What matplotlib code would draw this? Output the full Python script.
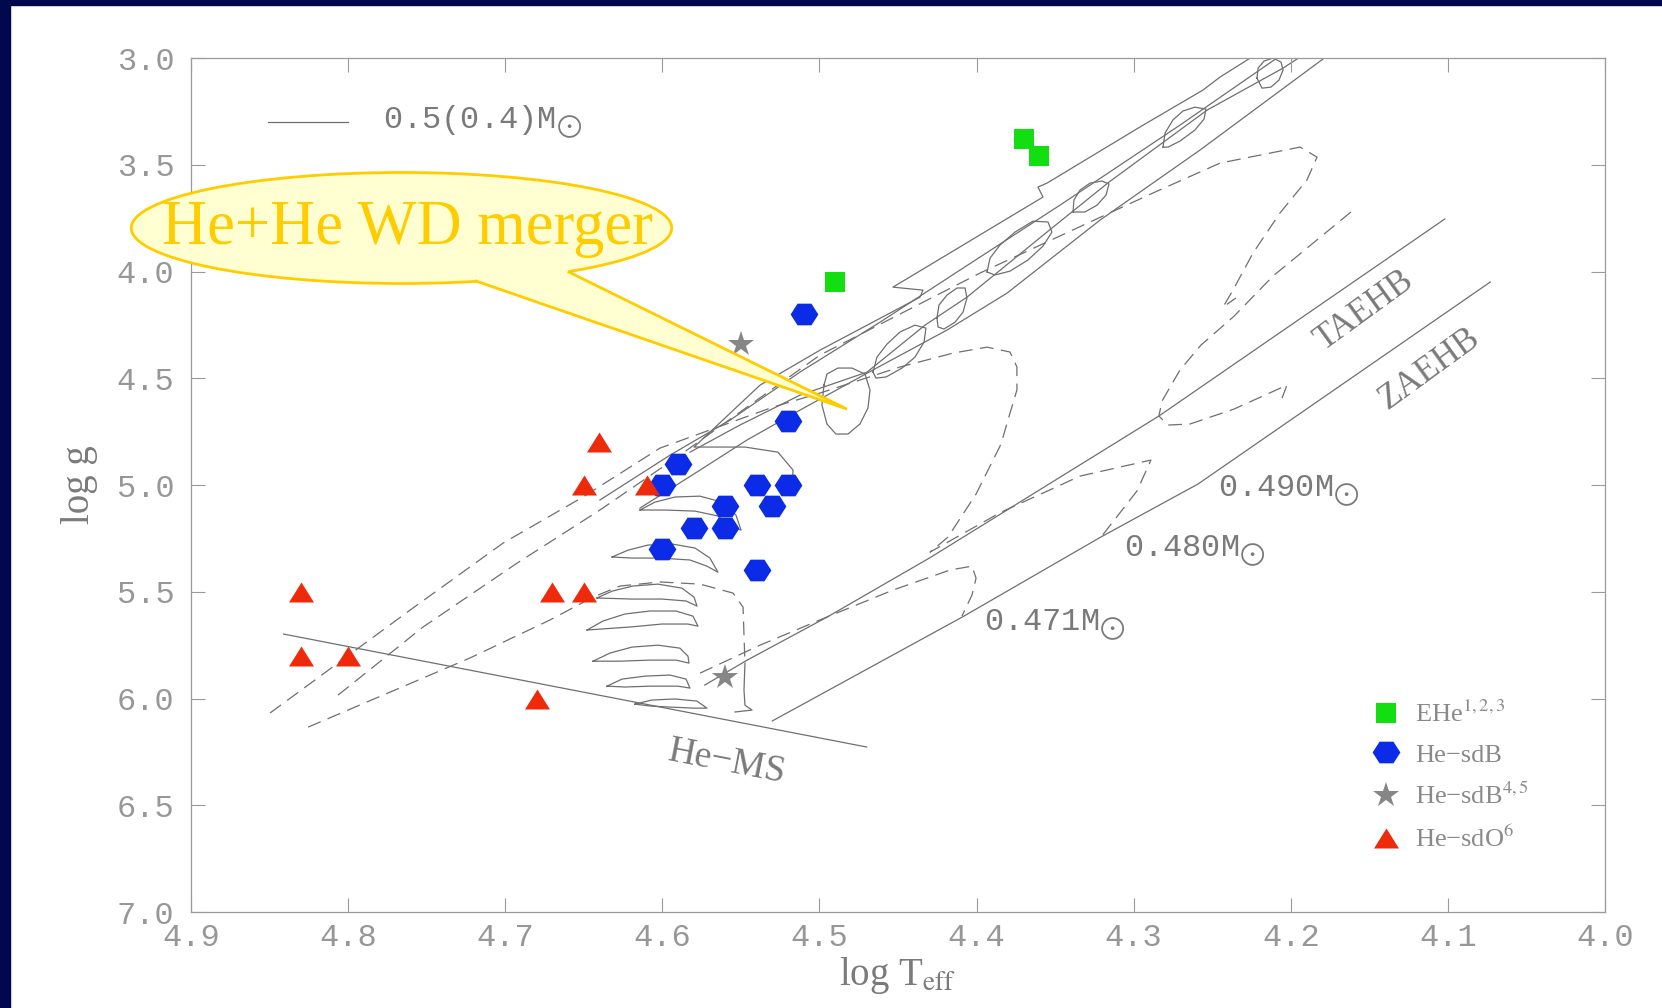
import matplotlib
matplotlib.use('Agg')
import matplotlib.pyplot as plt
from matplotlib.patches import Ellipse, Polygon, Rectangle

plt.rcParams['mathtext.fontset'] = 'stix'
plt.rcParams['font.family'] = ['Liberation Mono', 'DejaVu Sans']

## observed stars (log Teff, log g)
ehe_t = [4.37, 4.36, 4.49]
ehe_g = [3.38, 3.46, 4.05]
sdb_t = [4.51, 4.52, 4.59, 4.60, 4.54, 4.52, 4.56, 4.53, 4.58, 4.56, 4.60, 4.54]
sdb_g = [4.20, 4.70, 4.90, 5.00, 5.00, 5.00, 5.10, 5.10, 5.20, 5.20, 5.30, 5.40]
sdb45_t = [4.55, 4.56]
sdb45_g = [4.34, 5.90]
sdo_t = [4.64, 4.65, 4.61, 4.83, 4.67, 4.65, 4.83, 4.80, 4.68]
sdo_g = [4.80, 5.00, 5.00, 5.50, 5.50, 5.50, 5.80, 5.80, 6.00]

## reference lines
hems_t = [4.841, 4.470]
hems_g = [5.698, 6.227]
taehb_t = [4.573, 4.546, 4.495, 4.430, 4.284, 4.102]
taehb_g = [5.937, 5.820, 5.618, 5.342, 4.677, 3.754]
zaehb_t = [4.530, 4.409, 4.321, 4.259, 4.073]
zaehb_g = [6.105, 5.618, 5.244, 4.995, 4.049]

## solid tracks 0.5 Msun
trk1_t = [4.2215, 4.2450, 4.2559, 4.2960, 4.3552, 4.3609, 4.3577, 4.4532, 4.4341, 4.4360,
          4.4996, 4.5378, 4.5798, 4.5474, 4.5264, 4.5168, 4.5175]
trk1_g = [2.98, 3.089, 3.150, 3.323, 3.586, 3.604, 3.651, 4.073, 4.087, 4.120,
          4.368, 4.532, 4.822, 4.822, 4.846, 4.930, 5.024]
trk2_t = [4.1750, 4.2578, 4.3214, 4.3806, 4.4188, 4.4659, 4.5124, 4.5461, 4.5760, 4.6142]
trk2_g = [2.98, 3.431, 3.759, 4.101, 4.274, 4.461, 4.649, 4.789, 4.930, 5.108]
trk3_t = [4.2049, 4.2705, 4.3469, 4.4105, 4.4614, 4.5124, 4.5569, 4.5951, 4.6397]
trk3_g = [2.98, 3.314, 3.689, 3.993, 4.237, 4.471, 4.696, 4.860, 5.070]
trk4_t = [4.1909, 4.2049, 4.2533, 4.3157, 4.3513, 4.4061, 4.4328, 4.4697, 4.5124, 4.5506, 4.5824]
trk4_g = [2.98, 3.047, 3.244, 3.581, 3.792, 4.120, 4.251, 4.471, 4.579, 4.719, 4.846]

## flash loops
loop1_t = [4.2215, 4.2208, 4.2170, 4.2113, 4.2062, 4.2049, 4.2075, 4.2126, 4.2183, 4.2215]
loop1_g = [3.094, 3.047, 3.014, 3.000, 3.019, 3.056, 3.103, 3.136, 3.141, 3.094]
loop2_t = [4.2813, 4.2800, 4.2750, 4.2686, 4.2610, 4.2540, 4.2552, 4.2610, 4.2705, 4.2781, 4.2813]
loop2_g = [3.417, 3.351, 3.290, 3.248, 3.230, 3.239, 3.286, 3.337, 3.389, 3.417, 3.417]
loop3_t = [4.3386, 4.3380, 4.3341, 4.3278, 4.3202, 4.3157, 4.3176, 4.3233, 4.3310, 4.3386]
loop3_g = [3.721, 3.665, 3.618, 3.586, 3.576, 3.590, 3.642, 3.689, 3.721, 3.721]
loop4_t = [4.3933, 4.3914, 4.3851, 4.3755, 4.3641, 4.3545, 4.3520, 4.3577, 4.3673, 4.3787, 4.3883, 4.3933]
loop4_g = [4.002, 3.937, 3.876, 3.815, 3.764, 3.768, 3.815, 3.881, 3.946, 3.998, 4.016, 4.002]
loop5_t = [4.4252, 4.4239, 4.4188, 4.4124, 4.4073, 4.4061, 4.4086, 4.4137, 4.4207, 4.4245, 4.4252]
loop5_g = [4.218, 4.157, 4.110, 4.077, 4.077, 4.124, 4.190, 4.237, 4.269, 4.260, 4.218]
loop6_t = [4.4659, 4.4634, 4.4570, 4.4487, 4.4392, 4.4322, 4.4334, 4.4392, 4.4474, 4.4576, 4.4640, 4.4659]
loop6_g = [4.471, 4.401, 4.340, 4.283, 4.251, 4.265, 4.330, 4.401, 4.452, 4.494, 4.499, 4.471]
loop7_t = [4.4971, 4.4952, 4.4882, 4.4793, 4.4710, 4.4678, 4.4691, 4.4742, 4.4818, 4.4895, 4.4952,
           4.4984, 4.4971]
loop7_g = [4.532, 4.480, 4.452, 4.452, 4.480, 4.555, 4.639, 4.714, 4.761, 4.761, 4.714,
           4.625, 4.532]

## horizontal loops near the He-MS
fin1_t = [4.6142, 4.6047, 4.5919, 4.5760, 4.5620, 4.5531, 4.5499, 4.5557, 4.5646, 4.5792, 4.5983, 4.6142]
fin1_g = [5.117, 5.080, 5.056, 5.052, 5.080, 5.141, 5.211, 5.197, 5.145, 5.122, 5.117, 5.117]
fin2_t = [4.6320, 4.6218, 4.6091, 4.5939, 4.5792, 4.5697, 4.5646, 4.5716, 4.5824, 4.6015, 4.6193, 4.6320]
fin2_g = [5.337, 5.305, 5.281, 5.276, 5.295, 5.342, 5.408, 5.380, 5.351, 5.342, 5.342, 5.337]
fin3_t = [4.6416, 4.6320, 4.6187, 4.6028, 4.5875, 4.5798, 4.5779, 4.5849, 4.6002, 4.6193, 4.6416]
fin3_g = [5.529, 5.497, 5.473, 5.464, 5.483, 5.525, 5.567, 5.543, 5.534, 5.534, 5.529]
fin4_t = [4.6479, 4.6378, 4.6238, 4.6078, 4.5913, 4.5805, 4.5773, 4.5837, 4.6002, 4.6206, 4.6479]
fin4_g = [5.679, 5.637, 5.604, 5.590, 5.590, 5.614, 5.661, 5.651, 5.651, 5.665, 5.679]
fin5_t = [4.6441, 4.6333, 4.6193, 4.6028, 4.5888, 4.5837, 4.5830, 4.5913, 4.6078, 4.6269, 4.6441]
fin5_g = [5.825, 5.787, 5.759, 5.750, 5.764, 5.801, 5.834, 5.820, 5.820, 5.825, 5.825]
fin6_t = [4.6352, 4.6257, 4.6110, 4.5951, 4.5849, 4.5824, 4.5900, 4.6078, 4.6238, 4.6352]
fin6_g = [5.942, 5.909, 5.895, 5.890, 5.909, 5.951, 5.942, 5.942, 5.946, 5.942]
fin7_t = [4.6174, 4.6066, 4.5919, 4.5779, 4.5716, 4.5798, 4.5951, 4.6078, 4.6174]
fin7_g = [6.026, 6.007, 6.002, 6.012, 6.045, 6.045, 6.040, 6.035, 6.026]
end_t = [4.5474, 4.5480, 4.5474, 4.5429, 4.5537]
end_g = [5.834, 5.960, 6.031, 6.054, 6.063]

## dashed tracks 0.4 Msun
dsh1_t = [4.8497, 4.7606, 4.7014, 4.6505, 4.6015, 4.5697, 4.5296, 4.4996, 4.4487, 4.4150,
          4.3933, 4.3787, 4.3743, 4.3743, 4.3806, 4.3844, 4.4003, 4.4182, 4.4296, 4.3844,
          4.3341, 4.2890, 4.2979, 4.3208]
dsh1_g = [6.068, 5.586, 5.272, 5.056, 4.827, 4.742, 4.635, 4.569, 4.447, 4.382,
          4.354, 4.377, 4.447, 4.555, 4.710, 4.808, 5.042, 5.244, 5.314, 5.127,
          4.958, 4.883, 5.028, 5.244]
dsh2_t = [4.8064, 4.7523, 4.6925, 4.6397, 4.5888, 4.5442, 4.4996, 4.3978, 4.3278, 4.2877,
          4.2450, 4.1941, 4.1833, 4.1897, 4.2069, 4.2240, 4.2368, 4.2431, 4.2349]
dsh2_g = [5.984, 5.665, 5.366, 5.117, 4.860, 4.625, 4.391, 4.007, 3.768, 3.632,
          3.492, 3.417, 3.464, 3.571, 3.726, 3.913, 4.087, 4.166, 4.124]
dsh3_t = [4.8255, 4.7224, 4.6715, 4.6441, 4.6269, 4.6015, 4.5760, 4.5550, 4.5486, 4.5474]
dsh3_g = [6.134, 5.810, 5.632, 5.525, 5.473, 5.454, 5.464, 5.506, 5.572, 5.834]
dsh4_t = [4.5760, 4.5378, 4.4952, 4.4532, 4.4169, 4.4029, 4.4003, 4.4029, 4.4093]
dsh4_g = [5.881, 5.750, 5.618, 5.492, 5.398, 5.380, 5.436, 5.515, 5.614]
dsh5_t = [4.1617, 4.2113, 4.2361, 4.2571, 4.2705, 4.2820, 4.2839, 4.2781, 4.2641, 4.2361,
          4.2024, 4.2056]
dsh5_g = [3.721, 4.021, 4.209, 4.344, 4.461, 4.607, 4.677, 4.719, 4.714, 4.644,
          4.532, 4.593]

xticks = [4.9, 4.8, 4.7, 4.6, 4.5, 4.4, 4.3, 4.2, 4.1, 4.0]
yticks = [3.0, 3.5, 4.0, 4.5, 5.0, 5.5, 6.0, 6.5, 7.0]

gris = '#6f6f6f'
txtgris = '#7a7a7a'

fig = plt.figure(figsize=(16.62, 10.08), dpi=100)
fig.patches.append(Rectangle((0, 0), 0.006, 1, transform=fig.transFigure, color='#02084e', zorder=0))
fig.patches.append(Rectangle((0, 0.995), 1, 0.005, transform=fig.transFigure, color='#02084e', zorder=0))
ax = fig.add_axes([0.1149, 0.0952, 0.8508, 0.8472])

solidas = [(hems_t, hems_g), (taehb_t, taehb_g), (zaehb_t, zaehb_g),
           (trk1_t, trk1_g), (trk2_t, trk2_g), (trk3_t, trk3_g), (trk4_t, trk4_g),
           (loop1_t, loop1_g), (loop2_t, loop2_g), (loop3_t, loop3_g), (loop4_t, loop4_g),
           (loop5_t, loop5_g), (loop6_t, loop6_g), (loop7_t, loop7_g),
           (fin1_t, fin1_g), (fin2_t, fin2_g), (fin3_t, fin3_g), (fin4_t, fin4_g),
           (fin5_t, fin5_g), (fin6_t, fin6_g), (fin7_t, fin7_g), (end_t, end_g)]
for t, g in solidas:
    ax.plot(t, g, color=gris, lw=0.9, zorder=1, solid_joinstyle='round')

rayadas = [(dsh1_t, dsh1_g), (dsh2_t, dsh2_g), (dsh3_t, dsh3_g), (dsh4_t, dsh4_g), (dsh5_t, dsh5_g)]
for t, g in rayadas:
    ax.plot(t, g, color=gris, lw=0.9, ls=(0, (11, 6)), zorder=1)

hexa = [(-1, 0), (-0.5, 0.78), (0.5, 0.78), (1, 0), (0.5, -0.78), (-0.5, -0.78), (-1, 0)]
trian = [(-1, -0.8), (1, -0.8), (0, 0.8), (-1, -0.8)]
ax.plot(ehe_t, ehe_g, ls='none', marker='s', ms=14, color='#12de12', mew=0, zorder=3,
        label='EHe$^{1,2,3}$')
ax.plot(sdb_t, sdb_g, ls='none', marker=hexa, ms=20, color='#0b2be6', mew=0, zorder=3,
        label='He\u2212sdB')
ax.plot(sdb45_t, sdb45_g, ls='none', marker='*', ms=19, color='#868686', mew=0, zorder=3,
        label='He\u2212sdB$^{4,5}$')
ax.plot(sdo_t, sdo_g, ls='none', marker=trian, ms=18, color='#ee2a0a', mew=0, zorder=3,
        label='He\u2212sdO$^{6}$')

ax.set_xlim(4.9, 4.0)
ax.set_ylim(7.0, 3.0)
ax.set_xticks(xticks)
ax.set_yticks(yticks)
ax.set_xticklabels(['%.1f' % v for v in xticks])
ax.set_yticklabels(['%.1f' % v for v in yticks])
ax.tick_params(direction='in', length=10, width=0.8, color='#9a9a9a', top=True, right=True,
               labelsize=23, labelcolor='#979797')
ax.tick_params(axis='x', pad=8)
ax.tick_params(axis='y', pad=12)
for s in ax.spines.values():
    s.set_color('#9a9a9a')
    s.set_linewidth(0.9)

ax.set_xlabel('log T$_{\\rm eff}$', family='Liberation Serif', fontsize=28, color=txtgris)
ax.set_ylabel('log g', family='Liberation Serif', fontsize=28, color=txtgris)
ax.xaxis.set_label_coords(0.5, -0.05)
ax.yaxis.set_label_coords(-0.066, 0.5)

## labels on the plot
sol = '$_{\\bigodot}$'
ax.plot([0.0545, 0.111], [0.925, 0.925], color=gris, lw=0.9, transform=ax.transAxes)
ax.text(0.136, 0.925, '0.5(0.4)M' + sol, transform=ax.transAxes, fontsize=23,
        color=txtgris, va='center')
ax.text(4.246, 5.028, '0.490M' + sol, fontsize=23, color=txtgris, va='center')
ax.text(4.306, 5.309, '0.480M' + sol, fontsize=23, color=txtgris, va='center')
ax.text(4.395, 5.656, '0.471M' + sol, fontsize=23, color=txtgris, va='center')
ax.text(4.153, 4.185, 'TAEHB', family='Liberation Serif', fontsize=25, color=txtgris,
        rotation=36, ha='center', va='center', rotation_mode='anchor')
ax.text(4.112, 4.457, 'ZAEHB', family='Liberation Serif', fontsize=25, color=txtgris,
        rotation=36, ha='center', va='center', rotation_mode='anchor')
ax.text(4.559, 6.30, 'He\u2212MS', family='Liberation Serif', fontsize=27, color=txtgris,
        rotation=-11, ha='center', va='center', rotation_mode='anchor')

leg = ax.legend(loc='upper left', bbox_to_anchor=(0.8266, 0.263), frameon=False,
                prop={'family': 'Liberation Serif', 'size': 19}, handlelength=1.0,
                handletextpad=0.6, labelspacing=0.62, borderpad=0, numpoints=1)
for txt in leg.get_texts():
    txt.set_color('#8a8a8a')

## callout
amarillo = '#ffcc00'
elipse = Ellipse((4.766, 3.796), width=0.344, height=0.520, facecolor='#ffffd2',
                 edgecolor=amarillo, lw=2.0, zorder=10, clip_on=False)
ax.add_patch(elipse)
pico = Polygon([(4.7186, 4.0), (4.7186, 4.0445), (4.4825, 4.6441), (4.6594, 4.0024), (4.6594, 3.955)],
               closed=True, facecolor='#ffffd2', edgecolor='none', zorder=11, clip_on=False)
ax.add_patch(pico)
ax.plot([4.7186, 4.4825, 4.6594], [4.0445, 4.6441, 4.0024], color=amarillo, lw=2.0, zorder=12,
        solid_joinstyle='miter')
ax.text(4.762, 3.80, 'He+He WD merger', family='Liberation Serif', fontsize=45, color=amarillo,
        ha='center', va='center', zorder=13)

plt.savefig('out.png', dpi=100)
plt.close()
